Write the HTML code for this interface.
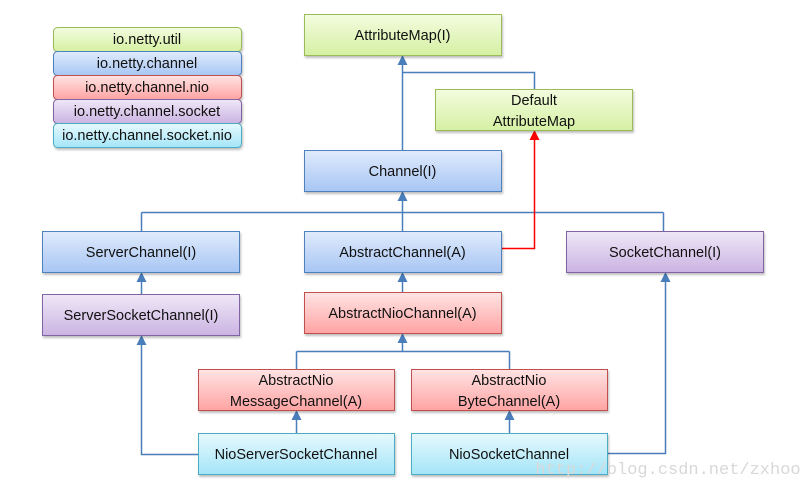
<!DOCTYPE html>
<html><head><meta charset="utf-8"><style>
html,body{margin:0;padding:0;background:#fff;width:809px;height:489px;overflow:hidden}
svg{display:block}
text{font-family:"Liberation Sans",sans-serif;font-size:14.5px;fill:#111;text-anchor:middle}
</style></head><body>
<svg width="809" height="489" viewBox="0 0 809 489">
<defs>
<linearGradient id="g" x1="0" y1="0" x2="0" y2="1"><stop offset="0" stop-color="#f3fce0"/><stop offset="1" stop-color="#d5f0a2"/></linearGradient>
<linearGradient id="b" x1="0" y1="0" x2="0" y2="1"><stop offset="0" stop-color="#e0ebfc"/><stop offset="1" stop-color="#a7c6f4"/></linearGradient>
<linearGradient id="r" x1="0" y1="0" x2="0" y2="1"><stop offset="0" stop-color="#ffe4e4"/><stop offset="1" stop-color="#ffa3a3"/></linearGradient>
<linearGradient id="p" x1="0" y1="0" x2="0" y2="1"><stop offset="0" stop-color="#efe8f7"/><stop offset="1" stop-color="#cbb3e2"/></linearGradient>
<linearGradient id="c" x1="0" y1="0" x2="0" y2="1"><stop offset="0" stop-color="#e6f9fd"/><stop offset="1" stop-color="#a4e5f8"/></linearGradient>
<filter id="s" x="-5%" y="-10%" width="110%" height="130%"><feDropShadow dx="1" dy="2" stdDeviation="1" flood-color="#000" flood-opacity="0.25"/></filter>
</defs>
<g filter="url(#s)" stroke-width="1">
<rect x="53.5" y="27.5" width="188" height="24" rx="4" fill="url(#g)" stroke="#9bbb59"/>
<rect x="53.5" y="51.5" width="188" height="24" rx="4" fill="url(#b)" stroke="#4f81bd"/>
<rect x="53.5" y="75.5" width="188" height="24" rx="4" fill="url(#r)" stroke="#c0504d"/>
<rect x="53.5" y="99.5" width="188" height="24" rx="4" fill="url(#p)" stroke="#8064a2"/>
<rect x="53.5" y="123.5" width="188" height="24" rx="4" fill="url(#c)" stroke="#4bacc6"/>
</g>
<g style="font-size:13px">
<text x="147" y="44">io.netty.util</text>
<text x="147" y="68">io.netty.channel</text>
<text x="147" y="92">io.netty.channel.nio</text>
<text x="147" y="116">io.netty.channel.socket</text>
<text x="147" y="140">io.netty.channel.socket.nio</text>
</g>
<g fill="none" stroke="#4a7ebb" stroke-width="1.5">
<path d="M402.5 64 V150"/>
<path d="M402.5 72.5 H534.5 V89"/>
<path d="M402.5 200 V231"/>
<path d="M141.5 212.5 H663.5 M141.5 212.5 V231 M663.5 212.5 V231"/>
<path d="M141.5 281 V294"/>
<path d="M402.5 281 V292"/>
<path d="M402.5 342 V351.5 M296.5 351.5 H509.5 M296.5 351.5 V369 M509.5 351.5 V369"/>
<path d="M141.5 344 V454.5 H198"/>
<path d="M296.5 419 V433"/>
<path d="M509.5 419 V433"/>
<path d="M607 453.5 H665.5 V281"/>
</g>
<path d="M501 248.5 H534.5 V139" fill="none" stroke="#ff0000" stroke-width="1.5"/>
<g fill="#4a7ebb">
<path d="M402.5 55 l-5 10 h10z"/>
<path d="M402.5 191 l-5 10 h10z"/>
<path d="M141.5 272 l-5 10 h10z"/>
<path d="M402.5 272 l-5 10 h10z"/>
<path d="M402.5 333 l-5 10 h10z"/>
<path d="M141.5 335 l-5 10 h10z"/>
<path d="M296.5 410 l-5 10 h10z"/>
<path d="M509.5 410 l-5 10 h10z"/>
<path d="M665.5 272 l-5 10 h10z"/>
</g>
<path d="M534.5 130 l-5 10 h10z" fill="#ff0000"/>
<g filter="url(#s)">
<rect x="304.5" y="14.5" width="197" height="41" fill="url(#g)" stroke="#9bbb59"/>
<rect x="435.5" y="89.5" width="197" height="41" fill="url(#g)" stroke="#9bbb59"/>
<rect x="304.5" y="150.5" width="197" height="41" fill="url(#b)" stroke="#4f81bd"/>
<rect x="42.5" y="231.5" width="197" height="41" fill="url(#b)" stroke="#4f81bd"/>
<rect x="304.5" y="231.5" width="197" height="41" fill="url(#b)" stroke="#4f81bd"/>
<rect x="566.5" y="231.5" width="197" height="41" fill="url(#p)" stroke="#8064a2"/>
<rect x="42.5" y="294.5" width="197" height="41" fill="url(#p)" stroke="#8064a2"/>
<rect x="304.5" y="292.5" width="197" height="41" fill="url(#r)" stroke="#c0504d"/>
<rect x="198.5" y="369.5" width="196" height="41" fill="url(#r)" stroke="#c0504d"/>
<rect x="411.5" y="369.5" width="196" height="41" fill="url(#r)" stroke="#c0504d"/>
<rect x="198.5" y="433.5" width="196" height="41" fill="url(#c)" stroke="#4bacc6"/>
<rect x="411.5" y="433.5" width="196" height="41" fill="url(#c)" stroke="#4bacc6"/>
</g>
<text x="402.5" y="40">AttributeMap(I)</text>
<text x="534" y="105">Default</text>
<text x="534" y="126">AttributeMap</text>
<text x="402.5" y="176">Channel(I)</text>
<text x="141" y="257">ServerChannel(I)</text>
<text x="402.5" y="257">AbstractChannel(A)</text>
<text x="665" y="257">SocketChannel(I)</text>
<text x="141" y="320">ServerSocketChannel(I)</text>
<text x="402.5" y="318">AbstractNioChannel(A)</text>
<text x="296" y="385">AbstractNio</text>
<text x="296" y="406">MessageChannel(A)</text>
<text x="509" y="385">AbstractNio</text>
<text x="509" y="406">ByteChannel(A)</text>
<text x="296" y="459">NioServerSocketChannel</text>
<text x="509" y="459">NioSocketChannel</text>
<text x="668" y="474" style="font-family:'Liberation Mono',monospace;font-size:17px;fill:#d8d8d8">http://blog.csdn.net/zxhoo</text>
</svg>
</body></html>
